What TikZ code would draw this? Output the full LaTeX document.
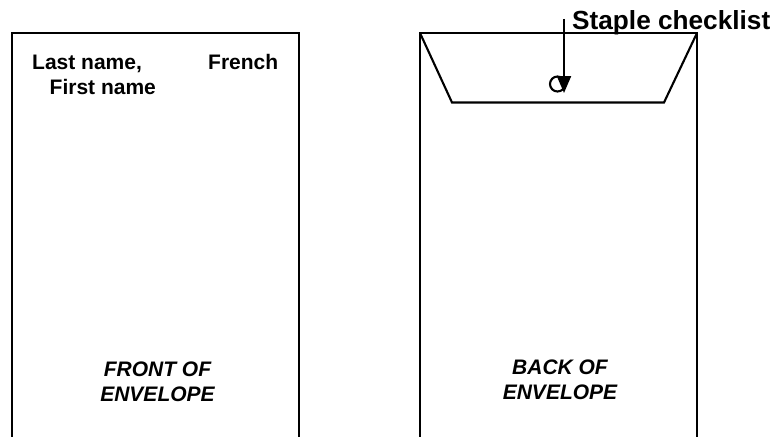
\documentclass[tikz,border=0pt]{standalone}
\usepackage{fontspec}
\setmainfont{Liberation Sans}
\usetikzlibrary{arrows.meta}
\tikzset{
  ln/.style={draw=black,line width=2.1pt},
  lbl/.style={font=\fontsize{21}{25}\selectfont\bfseries,inner sep=0pt,anchor=base west},
  captext/.style={font=\fontsize{21}{25}\selectfont\bfseries\itshape,inner sep=0pt,align=center,anchor=center},
  ttl/.style={font=\fontsize{26.2}{30}\selectfont\bfseries,inner sep=0pt,anchor=base west},
}
\begin{document}
\begin{tikzpicture}[x=1pt,y=-1pt]
\useasboundingbox (0,0) rectangle (775,436);
% front envelope
\coordinate (fbl) at (12,437);
\coordinate (ftl) at (12,33);
\coordinate (ftr) at (299,33);
\coordinate (fbr) at (299,437);
\draw[ln] (fbl) -- (ftl) -- (ftr) -- (fbr);
\node[lbl] (last) at (32,69) {Last name,};
\node[lbl] (french) at (208,69) {French};
\node[lbl] (first) at (49.5,94) {First name};
\node[captext] (front) at (157.5,382) {FRONT OF\\ENVELOPE};
% back envelope
\coordinate (bbl) at (420,437);
\coordinate (btl) at (420,33);
\coordinate (btr) at (697,33);
\coordinate (bbr) at (697,437);
\coordinate (fl) at (452,102.5);
\coordinate (fr) at (664,102.5);
\draw[ln] (bbl) -- (btl) -- (btr) -- (bbr);
\draw[ln,line join=miter] (btl) -- (fl) -- (fr) -- (btr);
\node[draw=black,line width=2.1pt,circle,minimum size=15pt,inner sep=0pt] (hole) at (557.5,84) {};
\node[captext] (back) at (560,380) {BACK OF\\ENVELOPE};
\node[ttl] (title) at (572,30) {Staple checklist};
\coordinate (as) at (564,19);
\coordinate (ae) at (564,93);
\draw[ln,-{Triangle[length=17pt,width=14pt]}] (as) -- (ae);
\end{tikzpicture}
\end{document}
